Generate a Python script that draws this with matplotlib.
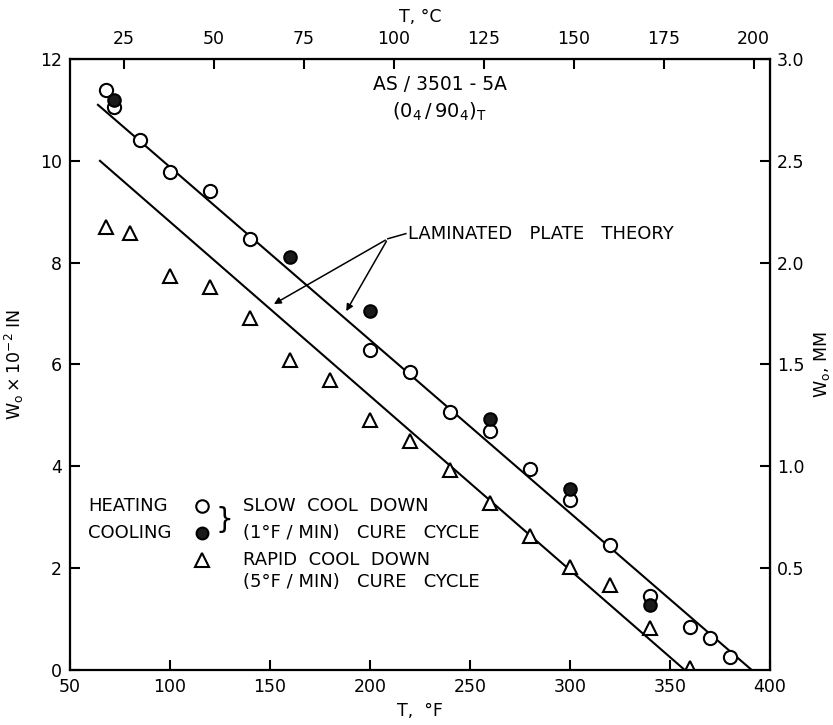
import numpy as np
import matplotlib
matplotlib.use("Agg")
import matplotlib.pyplot as plt

# heating (open circles), slow cool down cure
heat_T = [68, 72, 85, 100, 120, 140, 200, 220, 240, 260, 280, 300, 320, 340, 360, 370, 380]
heat_W = [11.4, 11.05, 10.41, 9.78, 9.4, 8.47, 6.29, 5.86, 5.06, 4.69, 3.94, 3.33, 2.45, 1.45, 0.84, 0.63, 0.25]

# cooling (filled circles), slow cool down cure
cool_T = [72, 160, 200, 260, 300, 340]
cool_W = [11.2, 8.11, 7.06, 4.92, 3.56, 1.27]

# rapid cool down cure (triangles)
rapid_T = [68, 80, 100, 120, 140, 160, 180, 200, 220, 240, 260, 280, 300, 320, 340, 360]
rapid_W = [8.7, 8.59, 7.74, 7.52, 6.91, 6.08, 5.69, 4.9, 4.5, 3.92, 3.28, 2.63, 2.03, 1.67, 0.83, 0.04]

# laminated plate theory lines (end points)
slow_line_T = [64, 391]
slow_line_W = [11.1, 0.0]
rapid_line_T = [65, 357.5]
rapid_line_W = [10.0, 0.0]

C_ticks = [25, 50, 75, 100, 125, 150, 175, 200]
mm_ticks = [0.5, 1.0, 1.5, 2.0, 2.5, 3.0]

plt.rcParams['font.family'] = 'DejaVu Sans'
plt.rcParams['mathtext.default'] = 'regular'

fig = plt.figure(figsize=(8.33, 7.25), dpi=100)
ax = fig.add_axes([0.084, 0.0759, 0.84, 0.8427])

ax.plot(slow_line_T, slow_line_W, color='black', lw=1.5)
ax.plot(rapid_line_T, rapid_line_W, color='black', lw=1.5)

ax.plot(heat_T, heat_W, 'o', ms=9.5, mfc='white', mec='black', mew=1.5)
ax.plot(cool_T, cool_W, 'o', ms=9, mfc='#1a1a1a', mec='black', mew=1.5)
ax.plot(rapid_T, rapid_W, '^', ms=10.5, mfc='white', mec='black', mew=1.5)

ax.set_xlim(50, 400)
ax.set_ylim(0, 12)
ax.set_xticks([50, 100, 150, 200, 250, 300, 350, 400])
ax.set_yticks([0, 2, 4, 6, 8, 10, 12])
ax.tick_params(direction='in', length=7, width=1.5, labelsize=12.5, pad=6)
for s in ax.spines.values():
    s.set_linewidth(1.6)

ax.set_xlabel('T,  °F', fontsize=12.5, labelpad=4)
ax.set_ylabel(r'$W_o \times 10^{-2}$ IN', fontsize=12.5, labelpad=10)

# top axis in deg C
f2c = lambda f: (np.asarray(f) - 32) * 5 / 9
c2f = lambda c: np.asarray(c) * 9 / 5 + 32
top = ax.secondary_xaxis('top', functions=(f2c, c2f))
top.set_xticks(C_ticks)
top.tick_params(direction='in', length=7, width=1.5, labelsize=12.5, pad=8)
top.set_xlabel('T, °C', fontsize=12.5, labelpad=6)

# right axis in mm
right = ax.secondary_yaxis('right', functions=(lambda w: np.asarray(w) * 0.25,
                                               lambda m: np.asarray(m) / 0.25))
right.set_yticks(mm_ticks)
right.set_yticklabels(['%.1f' % v for v in mm_ticks])
right.tick_params(direction='in', length=7, width=1.5, labelsize=12.5, pad=5)
right.set_ylabel('$W_o$, MM', fontsize=12.5, labelpad=6)

# title block
ax.text(235, 11.5, 'AS / 3501 - 5A', ha='center', va='center', fontsize=13.5)
ax.text(235, 10.96, r'$(0_4\,/\,90_4)_T$', ha='center', va='center', fontsize=14)

# annotation for theory lines
ax.text(219, 8.57, 'LAMINATED   PLATE   THEORY', ha='left', va='center', fontsize=13)
ax.plot([209, 218], [8.47, 8.57], color='black', lw=1.1)
ax.annotate('', xy=(187.5, 7.0), xytext=(209, 8.47),
            arrowprops=dict(arrowstyle='-|>', color='black', lw=1.1, mutation_scale=10))
ax.annotate('', xy=(150.8, 7.16), xytext=(209, 8.47),
            arrowprops=dict(arrowstyle='-|>', color='black', lw=1.1, mutation_scale=10))

# legend block
ax.text(59, 3.22, 'HEATING', ha='left', va='center', fontsize=13)
ax.text(59, 2.69, 'COOLING', ha='left', va='center', fontsize=13)
ax.plot([116], [3.22], 'o', ms=9, mfc='white', mec='black', mew=1.5)
ax.plot([116], [2.69], 'o', ms=8.5, mfc='#1a1a1a', mec='black', mew=1.5)
ax.plot([116], [2.16], '^', ms=10, mfc='white', mec='black', mew=1.5)
ax.text(127, 2.95, '}', ha='center', va='center', fontsize=20)
ax.text(136.5, 3.22, 'SLOW  COOL  DOWN', ha='left', va='center', fontsize=13)
ax.text(136.5, 2.69, '(1°F / MIN)   CURE   CYCLE', ha='left', va='center', fontsize=13)
ax.text(136.5, 2.16, 'RAPID  COOL  DOWN', ha='left', va='center', fontsize=13)
ax.text(136.5, 1.72, '(5°F / MIN)   CURE   CYCLE', ha='left', va='center', fontsize=13)

fig.savefig('out.png', dpi=100)
